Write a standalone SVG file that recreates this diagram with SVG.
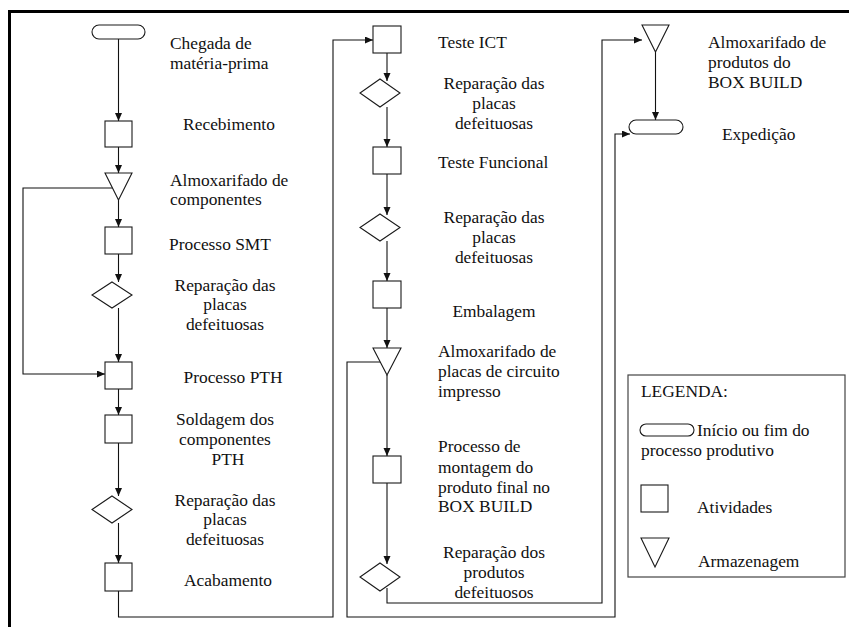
<svg xmlns="http://www.w3.org/2000/svg" width="849" height="627" viewBox="0 0 849 627" font-family="'Liberation Serif', 'Times New Roman', Tinos, 'DejaVu Serif', serif">
  <style>
    .shape { fill: #fff; stroke: #1a1a1a; stroke-width: 1.1; }
    .conn { fill: none; stroke: #111; stroke-width: 1.1; }
    text { font-family: 'Liberation Serif', 'Times New Roman', Tinos, 'DejaVu Serif', serif; font-size: 17.4px; fill: #111; }
    .c { text-anchor: middle; }
  </style>
  <defs>
    <marker id="arrow" markerUnits="userSpaceOnUse" markerWidth="8" markerHeight="8" refX="8" refY="3.5" orient="auto">
      <path d="M0,0 L8,3.5 L0,7 z" fill="#111"/>
    </marker>
  </defs>

  <rect width="849" height="627" fill="#fff"/>
  <!-- frame: heavy rule along the top and left edge -->
  <path d="M9.5,627 V11.5 H849" fill="none" stroke="#000" stroke-width="3"/>

  <!-- connectors -->
  <g id="connectors">
    <path class="conn" d="M118.5,39 V121" marker-end="url(#arrow)"/>
    <path class="conn" d="M118.5,147 V173" marker-end="url(#arrow)"/>
    <path class="conn" d="M118.5,200 V227" marker-end="url(#arrow)"/>
    <path class="conn" d="M118.5,254 V282" marker-end="url(#arrow)"/>
    <path class="conn" d="M118.5,308 V362" marker-end="url(#arrow)"/>
    <path class="conn" d="M112.5,188 H23 V374 H105" marker-end="url(#arrow)"/>
    <path class="conn" d="M118.5,389 V415" marker-end="url(#arrow)"/>
    <path class="conn" d="M118.5,443 V496" marker-end="url(#arrow)"/>
    <path class="conn" d="M118.5,523 V563" marker-end="url(#arrow)"/>
    <path class="conn" d="M118.5,591 V617 H333 V40 H373" marker-end="url(#arrow)"/>
    <path class="conn" d="M387,53 V81" marker-end="url(#arrow)"/>
    <path class="conn" d="M387,107 V147" marker-end="url(#arrow)"/>
    <path class="conn" d="M387,174 V215" marker-end="url(#arrow)"/>
    <path class="conn" d="M387,241 V281" marker-end="url(#arrow)"/>
    <path class="conn" d="M387,308 V348" marker-end="url(#arrow)"/>
    <path class="conn" d="M387,375 V456" marker-end="url(#arrow)"/>
    <path class="conn" d="M387,483 V564" marker-end="url(#arrow)"/>
    <path class="conn" d="M387,588 V603 H602 V40 H642" marker-end="url(#arrow)"/>
    <path class="conn" d="M380,362 H347 V617 H615 V134 H630" marker-end="url(#arrow)"/>
    <path class="conn" d="M655.5,52 V120" marker-end="url(#arrow)"/>
  </g>

  <!-- column 1 -->
  <g id="chegada">
    <rect class="shape" x="92" y="25" width="53" height="14" rx="7"/>
    <text x="170" y="49">Chegada de</text>
    <text x="170" y="69">matéria-prima</text>
  </g>
  <g id="recebimento">
    <rect class="shape" x="105" y="121" width="27" height="26"/>
    <text class="c" x="229" y="130">Recebimento</text>
  </g>
  <g id="almox-componentes">
    <polygon class="shape" points="105,173 132,173 118.5,200"/>
    <text x="170" y="186">Almoxarifado de</text>
    <text x="170" y="205">componentes</text>
  </g>
  <g id="smt">
    <rect class="shape" x="105" y="227" width="27" height="27"/>
    <text x="169" y="250">Processo SMT</text>
  </g>
  <g id="reparacao-1">
    <polygon class="shape" points="112,282 132,295 112,308 92,295"/>
    <text class="c" x="225" y="291">Reparação das</text>
    <text class="c" x="225" y="310">placas</text>
    <text class="c" x="225" y="330">defeituosas</text>
  </g>
  <g id="pth">
    <rect class="shape" x="105" y="362" width="27" height="27"/>
    <text class="c" x="233" y="383">Processo PTH</text>
  </g>
  <g id="soldagem">
    <rect class="shape" x="105" y="415" width="27" height="28"/>
    <text class="c" x="225" y="425">Soldagem dos</text>
    <text class="c" x="225" y="445">componentes</text>
    <text class="c" x="228" y="465">PTH</text>
  </g>
  <g id="reparacao-2">
    <polygon class="shape" points="112,496 132,509.5 112,523 92,509.5"/>
    <text class="c" x="225" y="506">Reparação das</text>
    <text class="c" x="225" y="525">placas</text>
    <text class="c" x="225" y="545">defeituosas</text>
  </g>
  <g id="acabamento">
    <rect class="shape" x="105" y="563" width="27" height="28"/>
    <text class="c" x="228" y="586">Acabamento</text>
  </g>

  <!-- column 2 -->
  <g id="teste-ict">
    <rect class="shape" x="373" y="26" width="28" height="27"/>
    <text x="438" y="48">Teste ICT</text>
  </g>
  <g id="reparacao-3">
    <polygon class="shape" points="380,79 400,93 380,107 360,93"/>
    <text class="c" x="494" y="89">Reparação das</text>
    <text class="c" x="494" y="109">placas</text>
    <text class="c" x="494" y="129">defeituosas</text>
  </g>
  <g id="teste-funcional">
    <rect class="shape" x="373" y="147" width="28" height="27"/>
    <text x="438" y="168">Teste Funcional</text>
  </g>
  <g id="reparacao-4">
    <polygon class="shape" points="380,214 400,227.5 380,241 360,227.5"/>
    <text class="c" x="494" y="223">Reparação das</text>
    <text class="c" x="494" y="243">placas</text>
    <text class="c" x="494" y="263">defeituosas</text>
  </g>
  <g id="embalagem">
    <rect class="shape" x="373" y="281" width="28" height="27"/>
    <text class="c" x="494" y="317">Embalagem</text>
  </g>
  <g id="almox-placas">
    <polygon class="shape" points="373,348 401,348 387,375"/>
    <text x="438" y="357">Almoxarifado de</text>
    <text x="438" y="377">placas de circuito</text>
    <text x="438" y="397">impresso</text>
  </g>
  <g id="box-build">
    <rect class="shape" x="373" y="456" width="28" height="27"/>
    <text x="438" y="452">Processo de</text>
    <text x="438" y="473">montagem do</text>
    <text x="438" y="493">produto final no</text>
    <text x="438" y="512">BOX BUILD</text>
  </g>
  <g id="reparacao-produtos">
    <polygon class="shape" points="380,563 400,577 380,591 360,577"/>
    <text class="c" x="494" y="558">Reparação dos</text>
    <text class="c" x="494" y="578">produtos</text>
    <text class="c" x="494" y="598">defeituosos</text>
  </g>

  <!-- column 3 -->
  <g id="almox-produtos">
    <polygon class="shape" points="642,25 669,25 655.5,52"/>
    <text x="708" y="48">Almoxarifado de</text>
    <text x="708" y="68">produtos do</text>
    <text x="708" y="88">BOX BUILD</text>
  </g>
  <g id="expedicao">
    <rect class="shape" x="629" y="120" width="54" height="14" rx="7"/>
    <text x="722" y="140">Expedição</text>
  </g>

  <!-- legend -->
  <g id="legenda">
    <rect x="628" y="375" width="217" height="202" fill="#fff" stroke="#444" stroke-width="1.2"/>
    <text x="641" y="397">LEGENDA:</text>
    <rect class="shape" x="640" y="424" width="54" height="12" rx="6"/>
    <text x="697" y="436">Início ou fim do</text>
    <text x="641" y="456">processo produtivo</text>
    <rect class="shape" x="641" y="485" width="27" height="27"/>
    <text x="697" y="513">Atividades</text>
    <polygon class="shape" points="641,538 669,538 655,567"/>
    <text x="698" y="567">Armazenagem</text>
  </g>
</svg>
